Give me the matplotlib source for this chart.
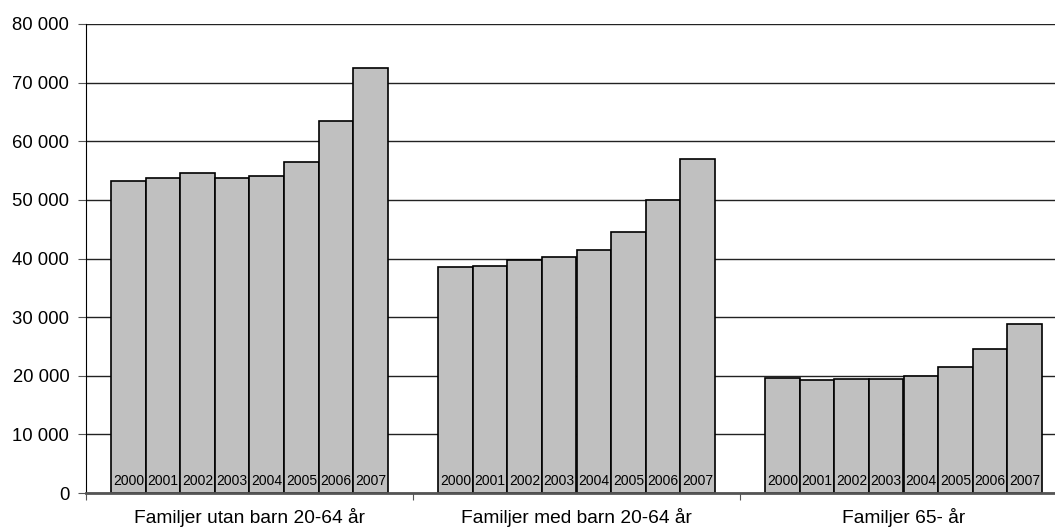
import matplotlib.pyplot as plt
import numpy as np

plt.rcParams['font.family'] = ['Liberation Sans', 'DejaVu Sans']

categories = ["Familjer utan barn 20-64 år", "Familjer med barn 20-64 år", "Familjer 65- år"]
years = ["2000", "2001", "2002", "2003", "2004", "2005", "2006", "2007"]
utan_barn = [53200, 53700, 54500, 53700, 54000, 56500, 63400, 72500]
med_barn = [38500, 38800, 39800, 40300, 41500, 44600, 50000, 57000]
over_65 = [19700, 19200, 19400, 19400, 20000, 21500, 24500, 28800]
yticks = [0, 10000, 20000, 30000, 40000, 50000, 60000, 70000, 80000]

series = [utan_barn, med_barn, over_65]
cat_w = 9.45
gap = cat_w - len(years)

fig = plt.figure(figsize=(10.55, 5.32), dpi=100)
ax = fig.add_axes([86 / 1055, 39 / 532, 1 - 86 / 1055, 469 / 532])

for i, vals in enumerate(series):
    x = i * cat_w + gap / 2 + np.arange(len(years)) + 0.5
    ax.bar(x, vals, width=1.0, color="#c0c0c0", edgecolor="black", linewidth=1.2, zorder=3)
    for xx, yr in zip(x, years):
        ax.text(xx, 900, yr, ha="center", va="bottom", fontsize=10, zorder=4)

# the original chart is cut off at the right edge
ax.set_xlim(0, cat_w * 969 / 327)
ax.set_ylim(0, 80000)
ax.set_yticks(yticks)
ax.set_yticklabels([f"{v:,}".replace(",", " ") for v in yticks], fontsize=13.3)
ax.grid(axis="y", color="#222222", linewidth=1.0, zorder=0)

ax.set_xticks([cat_w * k for k in range(3)])
ax.set_xticklabels([])
ax.set_xticks([cat_w * (k + 0.5) for k in range(3)], minor=True)
ax.set_xticklabels(categories, minor=True, fontsize=13.8)
ax.tick_params(axis="x", which="minor", length=0, pad=11)
ax.tick_params(axis="x", which="major", length=5, color="#555555")
ax.tick_params(axis="y", length=6, color="#555555", pad=6)

for s in ["top", "right"]:
    ax.spines[s].set_visible(False)
ax.spines["left"].set_color("black")
ax.spines["bottom"].set_color("#555555")
ax.spines["bottom"].set_linewidth(2)
ax.spines["bottom"].set_zorder(5)

fig.savefig("out.png", dpi=100)
